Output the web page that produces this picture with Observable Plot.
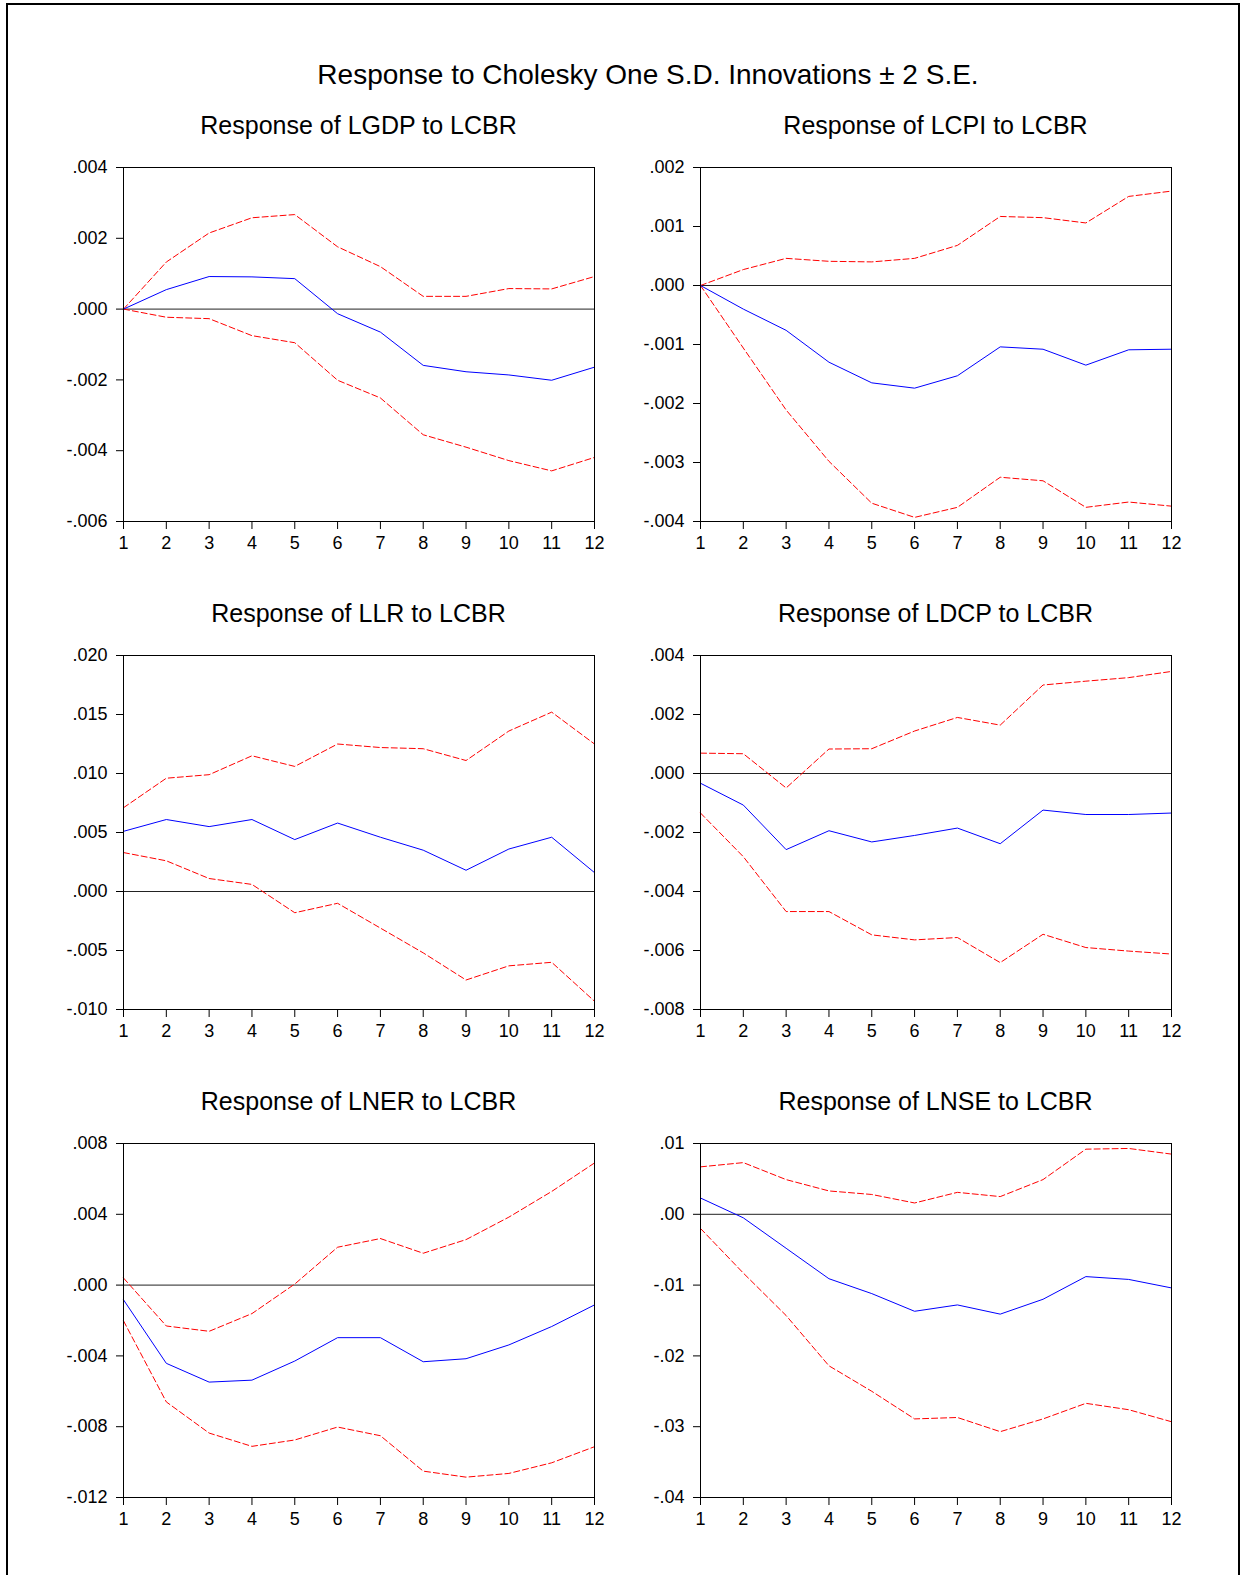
<!DOCTYPE html>
<html>
<head>
<meta charset="utf-8">
<script src="https://cdn.jsdelivr.net/npm/d3@7"></script>
<script src="https://cdn.jsdelivr.net/npm/@observablehq/plot@0.6"></script>
<style>
  html, body { margin: 0; padding: 0; background: #fff; overflow: hidden; }
  #page { position: relative; width: 1240px; height: 1575px; overflow: hidden; font-family: "Liberation Sans", Arial, sans-serif; color: #000; }
  #frame { position: absolute; left: 6px; top: 3px; width: 1234px; height: 1620px; border: 2px solid #000; box-sizing: border-box; }
  .ttl { position: absolute; transform: translate(-50%, -50%); white-space: nowrap; line-height: 1; }
  .panel { position: absolute; }
</style>
</head>
<body>
<div id="page"><div id="frame"></div></div>
<script>
// ---- data ----
const periods = [1, 2, 3, 4, 5, 6, 7, 8, 9, 10, 11, 12];

const mainTitle = "Response to Cholesky One S.D. Innovations \u00b1 2 S.E.";

// LGDP
const lgdpResp  = [0, 0.00055, 0.00092, 0.00091, 0.00086, -0.00013, -0.00065, -0.00159, -0.00177, -0.00186, -0.00201, -0.00164];
const lgdpUpper = [0, 0.00133, 0.00215, 0.00258, 0.00267, 0.00176, 0.00120, 0.00036, 0.00036, 0.00058, 0.00057, 0.00092];
const lgdpLower = [0, -0.00023, -0.00027, -0.00075, -0.00095, -0.00201, -0.00251, -0.00355, -0.00390, -0.00428, -0.00457, -0.00419];
const lgdpTicks = [-0.006, -0.004, -0.002, 0, 0.002, 0.004];

// LCPI
const lcpiResp  = [0, -0.00040, -0.00076, -0.00130, -0.00165, -0.00174, -0.00153, -0.00104, -0.00108, -0.00135, -0.00109, -0.00108];
const lcpiUpper = [0, 0.00027, 0.00046, 0.00041, 0.00040, 0.00046, 0.00068, 0.00117, 0.00115, 0.00106, 0.00151, 0.00160];
const lcpiLower = [0, -0.00106, -0.00211, -0.00298, -0.00369, -0.00393, -0.00376, -0.00325, -0.00331, -0.00376, -0.00367, -0.00374];
const lcpiTicks = [-0.004, -0.003, -0.002, -0.001, 0, 0.001, 0.002];

// LLR
const llrResp  = [0.0051, 0.0061, 0.0055, 0.0061, 0.0044, 0.0058, 0.0046, 0.0035, 0.0018, 0.0036, 0.0046, 0.0016];
const llrUpper = [0.0071, 0.0096, 0.0099, 0.0115, 0.0106, 0.0125, 0.0122, 0.0121, 0.0111, 0.0136, 0.0152, 0.0125];
const llrLower = [0.0033, 0.0026, 0.0011, 0.0006, -0.0018, -0.0010, -0.0031, -0.0052, -0.0075, -0.0063, -0.0060, -0.0093];
const llrTicks = [-0.010, -0.005, 0, 0.005, 0.010, 0.015, 0.020];

// LDCP
const ldcpResp  = [-0.00033, -0.00107, -0.00258, -0.00194, -0.00232, -0.00210, -0.00185, -0.00238, -0.00124, -0.00139, -0.00139, -0.00134];
const ldcpUpper = [0.00069, 0.00067, -0.00049, 0.00083, 0.00084, 0.00144, 0.00190, 0.00164, 0.00300, 0.00313, 0.00325, 0.00346];
const ldcpLower = [-0.00134, -0.00282, -0.00468, -0.00468, -0.00547, -0.00564, -0.00556, -0.00641, -0.00545, -0.00590, -0.00602, -0.00612];
const ldcpTicks = [-0.008, -0.006, -0.004, -0.002, 0, 0.002, 0.004];

// LNER
const lnerResp  = [-0.00083, -0.00442, -0.00548, -0.00537, -0.00429, -0.00297, -0.00297, -0.00433, -0.00416, -0.00338, -0.00234, -0.00112];
const lnerUpper = [0.00040, -0.00231, -0.00261, -0.00161, 0.00006, 0.00214, 0.00263, 0.00180, 0.00257, 0.00384, 0.00529, 0.00690];
const lnerLower = [-0.00202, -0.00660, -0.00836, -0.00911, -0.00875, -0.00802, -0.00851, -0.01051, -0.01085, -0.01064, -0.01004, -0.00913];
const lnerTicks = [-0.012, -0.008, -0.004, 0, 0.004, 0.008];

// LNSE
const lnseResp  = [0.0023, -0.0005, -0.0048, -0.0091, -0.0112, -0.0137, -0.0128, -0.0141, -0.0120, -0.0088, -0.0092, -0.0104];
const lnseUpper = [0.0067, 0.0073, 0.0049, 0.0033, 0.0028, 0.0016, 0.0031, 0.0025, 0.0049, 0.0092, 0.0093, 0.0085];
const lnseLower = [-0.0020, -0.0083, -0.0143, -0.0214, -0.0250, -0.0289, -0.0287, -0.0307, -0.0289, -0.0267, -0.0276, -0.0293];
const lnseTicks = [-0.04, -0.03, -0.02, -0.01, 0, 0.01];

const panelTitles = [
  "Response of LGDP to LCBR", "Response of LCPI to LCBR",
  "Response of LLR to LCBR",  "Response of LDCP to LCBR",
  "Response of LNER to LCBR", "Response of LNSE to LCBR"
];

// ---- layout ----
const FONT = "'Liberation Sans', Arial, sans-serif";
const colX = [123, 700];
const rowY = [166.5, 655, 1143];
const PW = 471, PH = 354;
const ML = 95, MR = 25, MT = 10, MB = 45;

const panels = [
  {title: panelTitles[0], resp: lgdpResp, up: lgdpUpper, lo: lgdpLower, ticks: lgdpTicks, dec: 3},
  {title: panelTitles[1], resp: lcpiResp, up: lcpiUpper, lo: lcpiLower, ticks: lcpiTicks, dec: 3},
  {title: panelTitles[2], resp: llrResp,  up: llrUpper,  lo: llrLower,  ticks: llrTicks,  dec: 3},
  {title: panelTitles[3], resp: ldcpResp, up: ldcpUpper, lo: ldcpLower, ticks: ldcpTicks, dec: 3},
  {title: panelTitles[4], resp: lnerResp, up: lnerUpper, lo: lnerLower, ticks: lnerTicks, dec: 3},
  {title: panelTitles[5], resp: lnseResp, up: lnseUpper, lo: lnseLower, ticks: lnseTicks, dec: 2}
];

const page = document.getElementById("page");
const locale = d3.formatLocale({decimal: ".", thousands: ",", grouping: [3], currency: ["", ""], minus: "-"});

function addText(txt, cx, cy, size) {
  const d = document.createElement("div");
  d.className = "ttl";
  d.textContent = txt;
  d.style.left = cx + "px";
  d.style.top = cy + "px";
  d.style.fontSize = size + "px";
  page.appendChild(d);
}

addText(mainTitle, 648, 74.5, 28);

panels.forEach((p, i) => {
  const col = i % 2, row = Math.floor(i / 2);
  const x0 = colX[col], y0 = rowY[row];
  const data = periods.map((t, k) => ({t, resp: p.resp[k], up: p.up[k], lo: p.lo[k]}));
  const f = locale.format("." + p.dec + "f");
  const fmt = d => f(d).replace("0.", ".");
  const chart = Plot.plot({
    width: ML + PW + MR,
    height: MT + PH + MB,
    marginLeft: ML, marginRight: MR, marginTop: MT, marginBottom: MB,
    style: {fontFamily: FONT, fontSize: "18px", color: "#000", background: "transparent", overflow: "visible"},
    x: {domain: [1, 12]},
    y: {domain: [p.ticks[0], p.ticks[p.ticks.length - 1]]},
    marks: [
      Plot.ruleY([0], {stroke: "#222", strokeWidth: 1}),
      Plot.line(data, {x: "t", y: "up", stroke: "#ff0000", strokeWidth: 1, strokeDasharray: "6,3"}),
      Plot.line(data, {x: "t", y: "lo", stroke: "#ff0000", strokeWidth: 1, strokeDasharray: "6,3"}),
      Plot.line(data, {x: "t", y: "resp", stroke: "#0000ff", strokeWidth: 1}),
      Plot.frame({stroke: "#000", strokeWidth: 1}),
      Plot.axisX({ticks: periods, tickFormat: d => String(d), tickSize: 8, tickPadding: 7, fontSize: 18, label: null, stroke: "#000", fill: "#000"}),
      Plot.axisY({ticks: p.ticks, tickFormat: fmt, tickSize: 7, tickPadding: 9, fontSize: 18, label: null, stroke: "#000", fill: "#000"})
    ]
  });
  chart.classList.add("panel");
  chart.style.left = (x0 - ML) + "px";
  chart.style.top = (y0 - MT) + "px";
  page.appendChild(chart);
  addText(p.title, x0 + PW / 2, y0 - 42, 25);
});
</script>
</body>
</html>
